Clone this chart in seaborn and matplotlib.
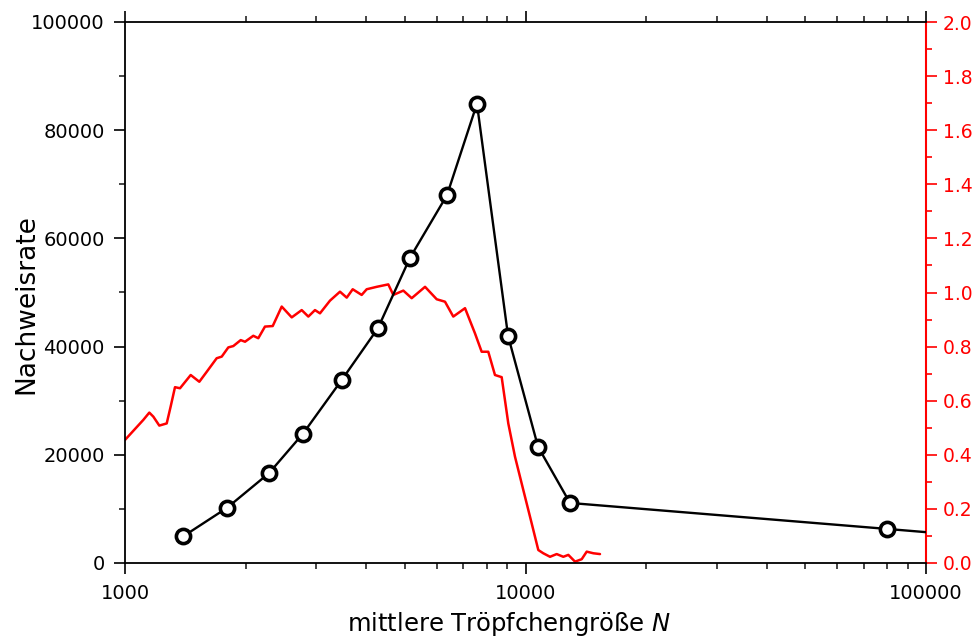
import matplotlib
matplotlib.use("Agg")
import matplotlib.pyplot as plt
import matplotlib.ticker as mticker
import seaborn as sns
import pandas as pd

# Black series: detection rate (left axis)
size_n = [1396, 1798, 2288, 2782, 3482, 4281, 5146, 6368, 7565, 9045, 10745, 12915, 79910, 100000]
rate = [4900, 10200, 16600, 23900, 33900, 43400, 56400, 68000, 84900, 42000, 21500, 11100, 6300, 5700]
has_marker = [True] * 13 + [False]

# Red series (right axis)
red_x = [1000, 1111, 1150, 1177, 1218, 1271, 1300, 1333, 1372, 1459, 1533, 1600, 1694, 1744,
         1811, 1864, 1945, 1994, 2091, 2152, 2236, 2338, 2462, 2608, 2762, 2869, 2981, 3068,
         3250, 3442, 3578, 3703, 3899, 4013, 4251, 4544, 4677, 4954, 5198, 5613, 6002, 6295,
         6602, 7063, 7479, 7772, 8073, 8390, 8720, 9058, 9414, 9874, 10360, 10764, 11076,
         11514, 11963, 12429, 12792, 13294, 13814, 14218, 14771, 15346]
red_y = [0.455, 0.529, 0.556, 0.541, 0.508, 0.516, 0.578, 0.650, 0.646, 0.695, 0.670, 0.707,
         0.757, 0.763, 0.797, 0.802, 0.824, 0.818, 0.840, 0.831, 0.874, 0.876, 0.948, 0.908,
         0.935, 0.911, 0.935, 0.923, 0.970, 1.003, 0.981, 1.012, 0.991, 1.012, 1.021, 1.030,
         0.991, 1.007, 0.979, 1.021, 0.975, 0.966, 0.911, 0.942, 0.849, 0.781, 0.781, 0.695,
         0.687, 0.516, 0.393, 0.270, 0.147, 0.048, 0.036, 0.023, 0.033, 0.023, 0.030, 0.005,
         0.014, 0.042, 0.036, 0.033]

x_ticks = [1000, 10000, 100000]
y_left_ticks = [0, 20000, 40000, 60000, 80000, 100000]
y_right_ticks = [0.0, 0.2, 0.4, 0.6, 0.8, 1.0, 1.2, 1.4, 1.6, 1.8, 2.0]

sns.set_style("ticks")
plt.rcParams["font.family"] = ["DejaVu Sans"]
plt.rcParams["mathtext.fontset"] = "dejavusans"

fig = plt.figure(figsize=(9.74, 6.39), dpi=100)
ax = fig.add_axes([125 / 974, 76 / 639, 801 / 974, 541 / 639])
ax2 = ax.twinx()

df_red = pd.DataFrame({"x": red_x, "y": red_y})
sns.lineplot(data=df_red, x="x", y="y", ax=ax2, color="#ff0000", linewidth=1.8, sort=False)

df_blk = pd.DataFrame({"x": size_n, "y": rate})
sns.lineplot(data=df_blk, x="x", y="y", ax=ax, color="black", linewidth=1.7, sort=False)
dfm = df_blk[has_marker]
sns.scatterplot(data=dfm, x="x", y="y", ax=ax, marker="o", s=105, facecolor="white",
                edgecolor="black", linewidth=2.6, zorder=5)

ax.set_zorder(ax2.get_zorder() + 1)
ax.patch.set_visible(False)

for a in (ax, ax2):
    a.set_xscale("log")
    a.set_xlim(1000, 100000)

ax.set_ylim(0, 100000)
ax2.set_ylim(0, 2.0)

ax.set_xticks(x_ticks)
ax.xaxis.set_major_formatter(mticker.FuncFormatter(lambda v, p: f"{int(round(v))}"))
ax.xaxis.set_minor_locator(mticker.LogLocator(base=10, subs=range(2, 10)))
ax.xaxis.set_minor_formatter(mticker.NullFormatter())
ax.set_yticks(y_left_ticks)
ax.set_yticklabels([str(v) for v in y_left_ticks])
ax.yaxis.set_minor_locator(mticker.MultipleLocator(10000))

ax2.set_yticks(y_right_ticks)
ax2.set_yticklabels([f"{v:.1f}" for v in y_right_ticks])
ax2.yaxis.set_minor_locator(mticker.MultipleLocator(0.1))

for s in ax.spines.values():
    s.set_visible(True)
    s.set_color("black")
    s.set_linewidth(1.3)
for s in ax2.spines.values():
    s.set_visible(False)
ax2.spines["right"].set_visible(True)
ax2.spines["right"].set_color("#ff0000")
ax2.spines["right"].set_linewidth(1.5)
ax.spines["right"].set_visible(False)

ax.tick_params(axis="both", which="major", direction="out", length=8, width=1.2,
               labelsize=14, colors="black", top=True, right=False)
ax.tick_params(axis="both", which="minor", direction="out", length=4.3, width=1.2,
               top=True, right=False)
ax.tick_params(axis="x", which="major", pad=7)
ax.tick_params(axis="y", which="major", pad=6.5)
ax2.tick_params(axis="y", which="major", direction="out", length=8, width=1.2,
                labelsize=13.5, colors="#ff0000", pad=4.3)
ax2.tick_params(axis="y", which="minor", direction="out", length=4.3, width=1.2,
                colors="#ff0000")

ax.set_xlabel("mittlere Tröpfchengröße $\\mathit{N}$", fontsize=17.5, color="black")
ax.xaxis.label.set_va("baseline")
ax.xaxis.set_label_coords((509 - 125) / 801, (563 - 631) / 541)
ax.set_ylabel("Nachweisrate", fontsize=19, color="black")
ax.yaxis.label.set_va("baseline")
ax.yaxis.set_label_coords((33 - 125) / 801, (563 - 304) / 541)
ax2.set_ylabel("")

fig.savefig("out.png", dpi=100)
